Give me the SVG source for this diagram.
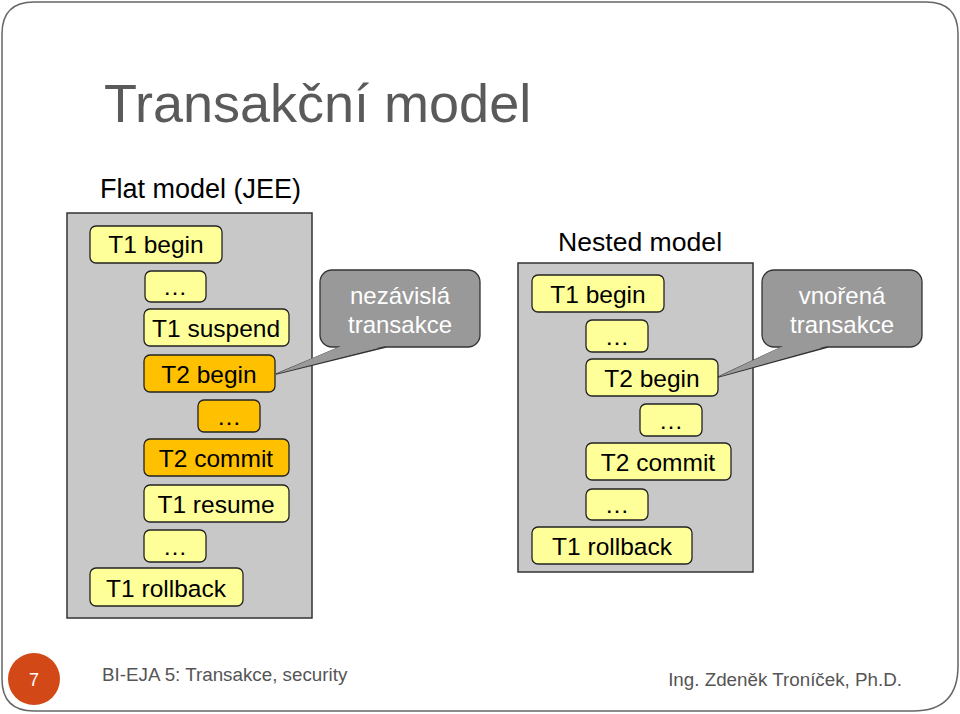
<svg xmlns="http://www.w3.org/2000/svg" width="960" height="714" viewBox="0 0 960 714">
<style>
.t{font-family:"Liberation Sans",Arial,sans-serif}
.box{fill:#ffff99;stroke:#222;stroke-width:1.3}
.or{fill:#ffc000;stroke:#222;stroke-width:1.3}
.bt{font-family:"Liberation Sans",Arial,sans-serif;font-size:24.5px;fill:#000;text-anchor:middle}
.panel{fill:#c8c8c8;stroke:#333;stroke-width:1.5}
.call{fill:#999;stroke:#333;stroke-width:1.3}
.ct{font-family:"Liberation Sans",Arial,sans-serif;font-size:24px;fill:#fff;text-anchor:middle}
</style>
<rect width="960" height="714" fill="#fff"/>
<path d="M34,2 H926 Q958,2 958,34 V666 Q958,711 913,711 H34 Q2,711 2,679 V34 Q2,2 34,2 Z" fill="#fff" stroke="#666" stroke-width="1.5"/>
<text class="t" x="104" y="122" font-size="54" fill="#5a5a5a">Transakční model</text>
<text class="t" x="100" y="198" font-size="27" fill="#000">Flat model (JEE)</text>
<text class="t" x="640" y="251" font-size="26.6" fill="#000" text-anchor="middle">Nested model</text>

<rect class="panel" x="67" y="213" width="245" height="405"/>
<rect class="panel" x="518" y="263" width="235" height="309"/>

<g id="connectors">
<path class="call" d="M340,347 L276,374 L386,347 Z"/>
<path class="call" d="M782,347 L718,377 L828,347 Z"/>
</g>

<g id="c1"><rect class="call" x="320" y="270" width="160" height="77" rx="12"/><path d="M341,346 L276,374 L385,346 Z" fill="#999"/><text class="ct" x="400" y="304">nezávislá</text><text class="ct" x="400" y="333">transakce</text></g>
<g id="c2"><rect class="call" x="762" y="270" width="160" height="77" rx="12"/><path d="M783,346 L718,377 L827,346 Z" fill="#999"/><text class="ct" x="842" y="304">vnořená</text><text class="ct" x="842" y="333">transakce</text></g>

<g id="f1"><rect class="box" x="90" y="226" width="132" height="37" rx="6"/><text class="bt" x="156" y="253">T1 begin</text></g>
<g id="f2"><rect class="box" x="145" y="271" width="61" height="31" rx="6"/><text class="bt" x="175" y="295">…</text></g>
<g id="f3"><rect class="box" x="144" y="309" width="145" height="37" rx="6"/><text class="bt" x="216" y="337">T1 suspend</text></g>
<g id="f4"><rect class="or" x="144" y="355" width="131" height="37" rx="6"/><text class="bt" x="209" y="383">T2 begin</text></g>
<g id="f5"><rect class="or" x="198" y="400" width="62" height="32" rx="6"/><text class="bt" x="229" y="425">…</text></g>
<g id="f6"><rect class="or" x="144" y="439" width="145" height="37" rx="6"/><text class="bt" x="216" y="467">T2 commit</text></g>
<g id="f7"><rect class="box" x="144" y="485" width="145" height="37" rx="6"/><text class="bt" x="216" y="513">T1 resume</text></g>
<g id="f8"><rect class="box" x="144" y="530" width="62" height="32" rx="6"/><text class="bt" x="175" y="555">…</text></g>
<g id="f9"><rect class="box" x="90" y="568" width="153" height="38" rx="6"/><text class="bt" x="166" y="597">T1 rollback</text></g>

<g id="n1"><rect class="box" x="532" y="275" width="132" height="37" rx="6"/><text class="bt" x="598" y="303">T1 begin</text></g>
<g id="n2"><rect class="box" x="586" y="320" width="62" height="32" rx="6"/><text class="bt" x="617" y="345">…</text></g>
<g id="n3"><rect class="box" x="586" y="359" width="132" height="37" rx="6"/><text class="bt" x="652" y="387">T2 begin</text></g>
<g id="n4"><rect class="box" x="640" y="404" width="62" height="32" rx="6"/><text class="bt" x="671" y="429">…</text></g>
<g id="n5"><rect class="box" x="586" y="443" width="145" height="37" rx="6"/><text class="bt" x="658" y="471">T2 commit</text></g>
<g id="n6"><rect class="box" x="586" y="489" width="62" height="31" rx="6"/><text class="bt" x="617" y="513">…</text></g>
<g id="n7"><rect class="box" x="532" y="527" width="160" height="37" rx="6"/><text class="bt" x="612" y="555">T1 rollback</text></g>

<circle cx="34" cy="679" r="26" fill="#d34817"/>
<text class="t" x="34" y="686" font-size="18" fill="#fff" text-anchor="middle">7</text>
<text class="t" x="102" y="681" font-size="18.8" fill="#555">BI-EJA 5: Transakce, security</text>
<text class="t" x="902" y="686" font-size="18.8" fill="#555" text-anchor="end">Ing. Zdeněk Troníček, Ph.D.</text>
</svg>
